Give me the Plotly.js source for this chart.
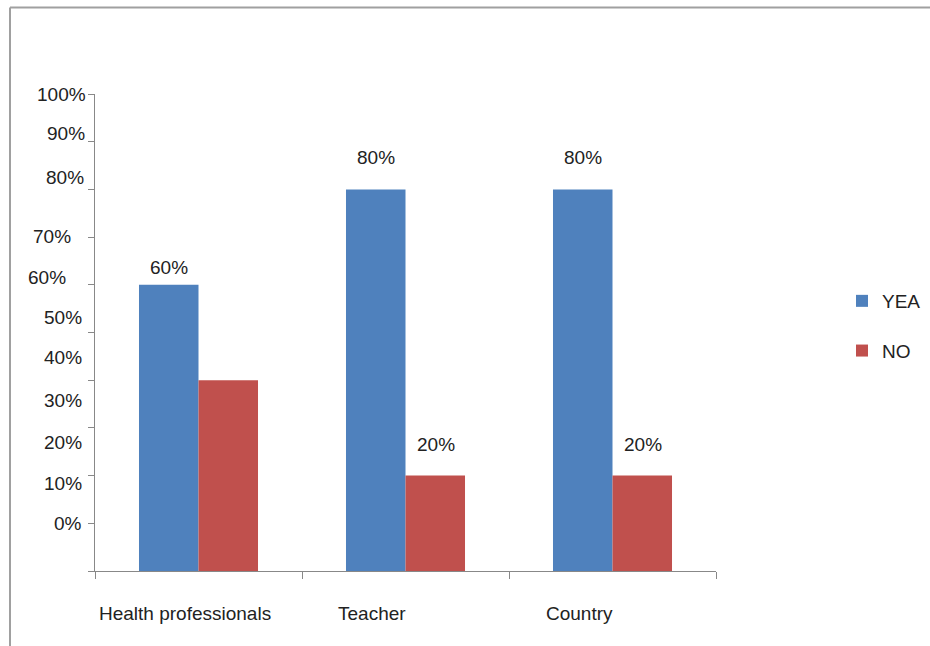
<!DOCTYPE html>
<html>
<head>
<meta charset="utf-8">
<script src="https://cdn.plot.ly/plotly-3.0.1.min.js"></script>
<style>html,body{margin:0;padding:0;background:#fff;}#chart{width:930px;height:646px;}</style>
</head>
<body>
<div id="chart"></div>
<script>
// ---- data ----
const categories = ['Health professionals', 'Teacher', 'Country'];
const yeaValues = [60, 80, 80];
const noValues = [40, 20, 20];
const yeaLabels = ['60%', '80%', '80%'];
const noLabels = ['', '20%', '20%'];
const yTickLabels = ['100%', '90%', '80%', '70%', '60%', '50%', '40%', '30%', '20%', '10%', '0%'];

// ---- layout constants (positions of the hand-placed axis labels) ----
const yLabelPos = [100.0, 91.8, 82.6, 70.2, 61.6, 53.2, 44.7, 35.8, 27.0, 18.4, 9.9];
const yLabelShift = [-7, -8, -9, -22, -27, -11, -11, -11, -11, -11, -11];
const xLabelShift = [-14, -34, -33];
const yeaLabelLift = [17, 32, 32];
const noLabelLift = [31, 31, 31];

const FONT = 'Liberation Sans, Arial, sans-serif';
const FS = 19;
const ML = 95, MR = 214, MT = 94, MB = 75;
const W = 930, H = 646;
const PW = W - ML - MR, PH = H - MT - MB;
const px = x => (x - ML) / PW;
const py = y => (H - MB - y) / PH;

const traces = [
  {type: 'bar', name: 'YEA', x: categories, y: yeaValues, marker: {color: '#4F81BD'}, legendgroup: 'a', hoverinfo: 'none'},
  {type: 'bar', name: 'NO', x: categories, y: noValues, marker: {color: '#C0504D'}, legendgroup: 'b', hoverinfo: 'none'}
];

const annotations = [];
yTickLabels.forEach((t, i) => annotations.push({
  xref: 'paper', yref: 'y', x: 0, y: yLabelPos[i], text: t, showarrow: false,
  xanchor: 'right', yanchor: 'middle', xshift: yLabelShift[i],
  font: {family: FONT, size: FS, color: '#222'}
}));
categories.forEach((c, i) => annotations.push({
  xref: 'x', yref: 'paper', x: c, y: py(613), text: c, showarrow: false,
  xanchor: 'center', yanchor: 'middle', xshift: xLabelShift[i],
  font: {family: FONT, size: FS, color: '#222'}
}));
categories.forEach((c, i) => {
  if (yeaLabels[i]) annotations.push({
    xref: 'x', yref: 'y', x: c, y: yeaValues[i], text: yeaLabels[i], showarrow: false,
    xanchor: 'center', yanchor: 'middle', xshift: -30, yshift: yeaLabelLift[i],
    font: {family: FONT, size: FS, color: '#222'}
  });
  if (noLabels[i]) annotations.push({
    xref: 'x', yref: 'y', x: c, y: noValues[i], text: noLabels[i], showarrow: false,
    xanchor: 'center', yanchor: 'middle', xshift: 30, yshift: noLabelLift[i],
    font: {family: FONT, size: FS, color: '#222'}
  });
});

const layout = {
  width: W, height: H,
  margin: {l: ML, r: MR, t: MT, b: MB, pad: 0, autoexpand: false},
  paper_bgcolor: '#fff', plot_bgcolor: '#fff',
  font: {family: FONT, size: FS, color: '#222'},
  barmode: 'group', bargap: 0.425, bargroupgap: 0,
  showlegend: true,
  legend: {x: px(842), y: py(282), xanchor: 'left', yanchor: 'top',
           font: {family: FONT, size: FS, color: '#222'},
           tracegroupgap: 22, traceorder: 'grouped', bgcolor: 'rgba(0,0,0,0)'},
  xaxis: {type: 'category', showline: true, linecolor: '#888', linewidth: 1,
          ticks: 'outside', tickson: 'boundaries', ticklen: 7, tickcolor: '#888',
          showticklabels: false, showgrid: false, zeroline: false, fixedrange: true},
  yaxis: {range: [0, 100], dtick: 10, tick0: 0, showline: true, linecolor: '#888', linewidth: 1,
          ticks: 'outside', ticklen: 6, tickcolor: '#888',
          showticklabels: false, showgrid: false, zeroline: false, fixedrange: true},
  annotations: annotations,
  shapes: [
    {type: 'line', xref: 'paper', yref: 'paper', x0: px(10), x1: px(935), y0: py(7.5), y1: py(7.5),
     line: {color: '#a0a0a0', width: 2}},
    {type: 'line', xref: 'paper', yref: 'paper', x0: px(10), x1: px(10), y0: py(7.5), y1: py(650),
     line: {color: '#a0a0a0', width: 2}}
  ]
};

Plotly.newPlot('chart', traces, layout, {displayModeBar: false, staticPlot: true});
</script>
</body>
</html>
